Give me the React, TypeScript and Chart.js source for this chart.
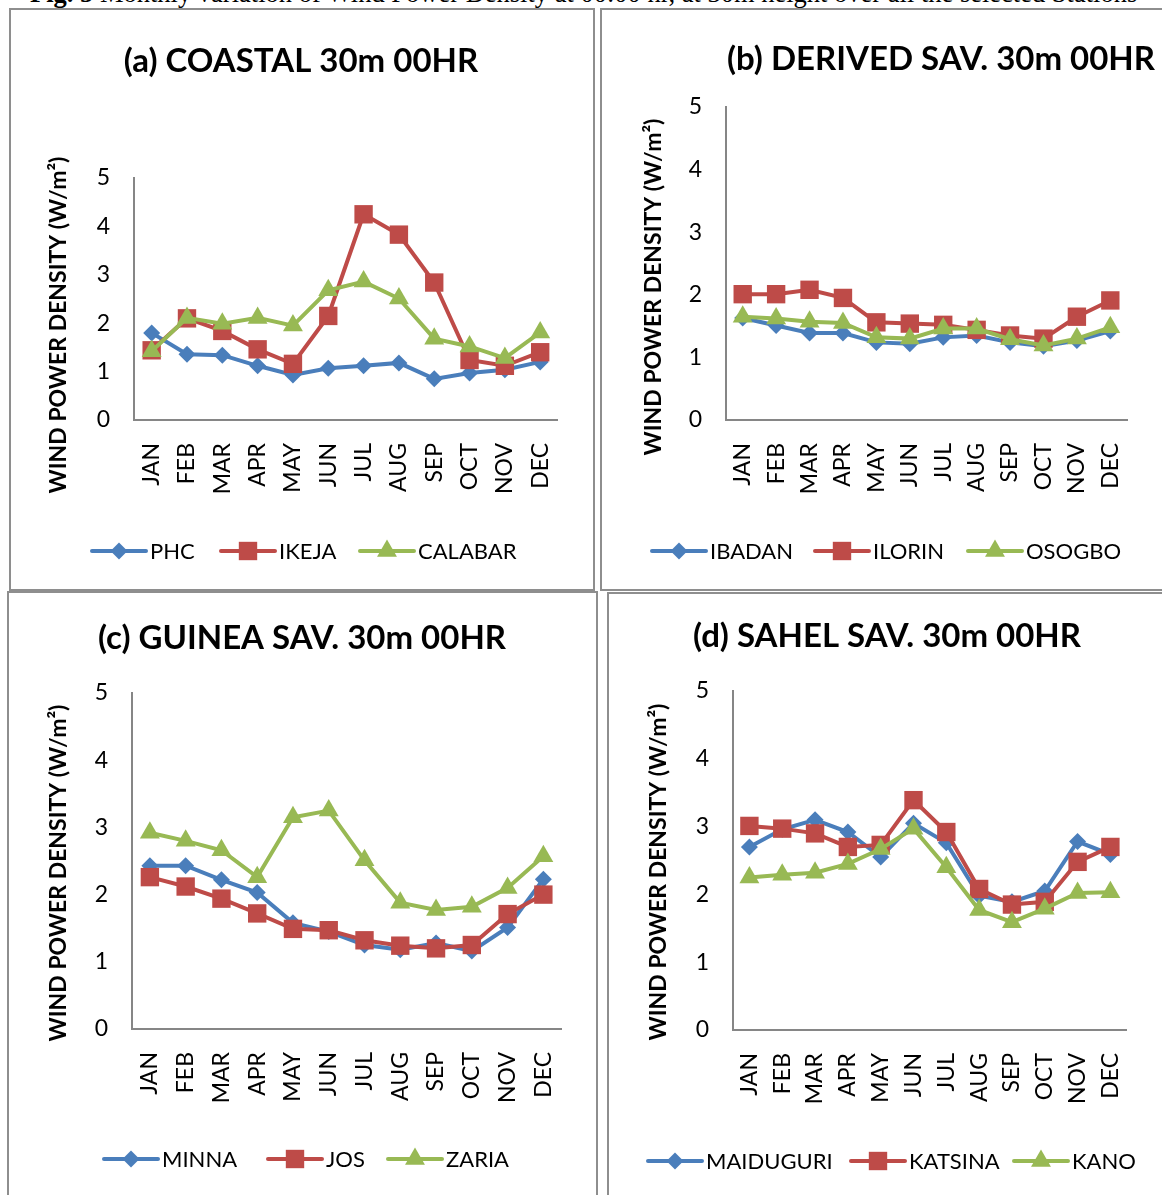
import React, { useEffect, useRef } from "react";
import { Chart, registerables } from "chart.js";
import { drawPoint } from "chart.js/helpers";

Chart.register(...registerables);

// ---------------- DATA ----------------
const MONTHS = ["JAN", "FEB", "MAR", "APR", "MAY", "JUN", "JUL", "AUG", "SEP", "OCT", "NOV", "DEC"];
const Y_TICKS = [0, 1, 2, 3, 4, 5];

// (a) Coastal
const PHC = [1.8, 1.36, 1.34, 1.12, 0.93, 1.07, 1.12, 1.18, 0.85, 0.97, 1.04, 1.2];
const IKEJA = [1.44, 2.1, 1.84, 1.46, 1.16, 2.15, 4.25, 3.83, 2.84, 1.24, 1.12, 1.4];
const CALABAR = [1.42, 2.11, 1.99, 2.11, 1.95, 2.68, 2.86, 2.51, 1.68, 1.52, 1.28, 1.81];

// (b) Derived savannah
const IBADAN = [1.63, 1.51, 1.39, 1.39, 1.24, 1.22, 1.32, 1.35, 1.24, 1.18, 1.27, 1.42];
const ILORIN = [2.01, 2.01, 2.08, 1.95, 1.56, 1.54, 1.52, 1.44, 1.35, 1.3, 1.65, 1.91];
const OSOGBO = [1.65, 1.62, 1.57, 1.55, 1.32, 1.3, 1.46, 1.46, 1.29, 1.19, 1.3, 1.48];

// (c) Guinea savannah
const MINNA = [2.43, 2.43, 2.22, 2.03, 1.58, 1.45, 1.25, 1.18, 1.28, 1.16, 1.51, 2.23];
const JOS = [2.26, 2.12, 1.94, 1.72, 1.49, 1.47, 1.32, 1.24, 1.2, 1.25, 1.71, 2.0];
const ZARIA = [2.92, 2.8, 2.66, 2.26, 3.15, 3.25, 2.51, 1.88, 1.77, 1.82, 2.1, 2.57];

// (d) Sahel savannah
const MAIDUGURI = [2.7, 2.96, 3.1, 2.92, 2.55, 3.05, 2.76, 1.98, 1.89, 2.05, 2.78, 2.59];
const KATSINA = [3.01, 2.97, 2.9, 2.7, 2.73, 3.39, 2.92, 2.08, 1.85, 1.89, 2.48, 2.7];
const KANO = [2.25, 2.29, 2.32, 2.45, 2.67, 2.97, 2.4, 1.77, 1.59, 1.79, 2.02, 2.03];

const TITLES = [
  "(a) COASTAL 30m 00HR",
  "(b) DERIVED SAV. 30m 00HR",
  "(c) GUINEA SAV. 30m 00HR",
  "(d) SAHEL SAV. 30m 00HR",
];
const Y_TITLE = "WIND POWER DENSITY (W/m\u00B2)";
const CAPTION_BOLD = "Fig. 5";
const CAPTION_TEXT = " Monthly variation of Wind Power Density at 00:00 hr, at 30m height over all the selected Stations";

// ---------------- STYLE ----------------
const COLORS = ["#4A7EBB", "#BE4B48", "#98B954"];
const POINT_STYLES = ["rectRot", "rect", "triangle"];
const POINT_RADII = [8.5, 13, 11.5];
const FONT = "Lato, 'Open Sans', sans-serif";
const AXIS_COLOR = "#868686";

type Geo = {
  canvas: [number, number, number, number]; // x, y, w, h (page)
  plot: [number, number, number, number]; // left, top, right, bottom (page)
  title: [number, number];
  yTitle: [number, number];
  legendY: number;
  legendX: number[]; // start x of each legend entry line (page)
};

type PanelDef = {
  title: string;
  names: string[];
  series: number[][];
  geo: Geo;
  box: [number, number, number, number];
};

const PANELS: PanelDef[] = [
  {
    title: TITLES[0],
    names: ["PHC", "IKEJA", "CALABAR"],
    series: [PHC, IKEJA, CALABAR],
    box: [9, 8, 586, 583],
    geo: { canvas: [11, 10, 581, 579], plot: [134, 178, 563, 420], title: [301, 61], yTitle: [59, 325], legendY: 551, legendX: [92, 221, 360] },
  },
  {
    title: TITLES[1],
    names: ["IBADAN", "ILORIN", "OSOGBO"],
    series: [IBADAN, ILORIN, OSOGBO],
    box: [600, 8, 700, 583],
    geo: { canvas: [602, 10, 560, 579], plot: [726, 107, 1136, 420], title: [941, 59], yTitle: [654, 287], legendY: 551, legendX: [652, 815, 968] },
  },
  {
    title: TITLES[2],
    names: ["MINNA", "JOS", "ZARIA"],
    series: [MINNA, JOS, ZARIA],
    box: [7, 591, 591, 700],
    geo: { canvas: [9, 593, 586, 602], plot: [132, 693, 570, 1029], title: [302, 638], yTitle: [59, 873], legendY: 1159, legendX: [104, 268, 388] },
  },
  {
    title: TITLES[3],
    names: ["MAIDUGURI", "KATSINA", "KANO"],
    series: [MAIDUGURI, KATSINA, KANO],
    box: [607, 592, 700, 700],
    geo: { canvas: [609, 594, 553, 601], plot: [733, 691, 1138, 1030], title: [887, 636], yTitle: [659, 872], legendY: 1161, legendX: [648, 851, 1014] },
  },
];

const X_AXIS_HEIGHT = 90;

const decorPlugin = {
  id: "panelDecor",
  afterDraw(chart: any, _args: any, opts: any) {
    const { ctx } = chart;
    const [cx, cy] = opts.geo.canvas;
    ctx.save();
    // Title
    ctx.fillStyle = "#000";
    ctx.font = `bold 33px ${FONT}`;
    ctx.textAlign = "center";
    ctx.textBaseline = "middle";
    ctx.fillText(opts.title, opts.geo.title[0] - cx, opts.geo.title[1] - cy);
    // Y axis title
    ctx.save();
    ctx.translate(opts.geo.yTitle[0] - cx, opts.geo.yTitle[1] - cy);
    ctx.rotate(-Math.PI / 2);
    ctx.font = `bold 23px ${FONT}`;
    ctx.fillText(Y_TITLE, 0, 0);
    ctx.restore();
    // Legend
    const y = opts.geo.legendY - cy;
    ctx.font = `22px ${FONT}`;
    ctx.textAlign = "left";
    opts.names.forEach((name: string, i: number) => {
      const x = opts.geo.legendX[i] - cx;
      ctx.strokeStyle = COLORS[i];
      ctx.lineWidth = 4;
      ctx.lineCap = "round";
      ctx.beginPath();
      ctx.moveTo(x, y);
      ctx.lineTo(x + 54, y);
      ctx.stroke();
      ctx.fillStyle = COLORS[i];
      drawPoint(ctx, { pointStyle: POINT_STYLES[i], radius: POINT_RADII[i], rotation: 0, borderWidth: 0 } as any, x + 27, y);
      ctx.fillStyle = "#000";
      ctx.fillText(name, x + 58, y + 1);
    });
    ctx.restore();
  },
};

function Panel({ def }: { def: PanelDef }) {
  const ref = useRef<HTMLCanvasElement>(null);
  const g = def.geo;
  useEffect(() => {
    if (!ref.current) return;
    const [cx, cy, cw, ch] = g.canvas;
    const [pl, pt, pr, pb] = g.plot;
    const chart = new Chart(ref.current, {
      type: "line",
      data: {
        labels: MONTHS,
        datasets: def.series.map((data, i) => ({
          label: def.names[i],
          data,
          borderColor: COLORS[i],
          backgroundColor: COLORS[i],
          borderWidth: 4,
          pointStyle: POINT_STYLES[i],
          pointRadius: POINT_RADII[i],
          pointHoverRadius: POINT_RADII[i],
          pointBackgroundColor: COLORS[i],
          pointBorderColor: COLORS[i],
          pointBorderWidth: 0,
          tension: 0,
          clip: false,
          order: 2 - i,
        })) as any,
      },
      options: {
        animation: false,
        responsive: false,
        events: [],
        layout: {
          padding: { left: 0, top: pt - cy, right: cx + cw - pr, bottom: cy + ch - pb - X_AXIS_HEIGHT },
        },
        plugins: {
          legend: { display: false },
          title: { display: false },
          tooltip: { enabled: false },
          panelDecor: { geo: g, title: def.title, names: def.names },
        } as any,
        scales: {
          x: {
            type: "category",
            offset: true,
            grid: { display: false, drawTicks: false },
            border: { display: true, color: AXIS_COLOR, width: 2 },
            ticks: {
              color: "#000",
              font: { family: FONT, size: 23 },
              minRotation: 90,
              maxRotation: 90,
              padding: 23,
              autoSkip: false,
            },
            afterFit: (s: any) => {
              s.height = X_AXIS_HEIGHT;
            },
          },
          y: {
            min: 0,
            max: 5,
            grid: { display: false, drawTicks: false },
            border: { display: true, color: AXIS_COLOR, width: 2 },
            ticks: {
              color: "#000",
              font: { family: FONT, size: 23 },
              padding: 24,
            },
            afterBuildTicks: (s: any) => {
              s.ticks = Y_TICKS.map((v) => ({ value: v }));
            },
            afterFit: (s: any) => {
              s.width = pl - cx;
            },
          },
        },
      } as any,
      plugins: [decorPlugin],
    });
    return () => chart.destroy();
  }, []);
  const [cx, cy, cw, ch] = g.canvas;
  const [bx, by, bw, bh] = def.box;
  return (
    <>
      <div
        style={{
          position: "absolute",
          left: bx,
          top: by,
          width: bw,
          height: bh,
          border: "2px solid #8e8e8e",
          boxSizing: "border-box",
        }}
      />
      <canvas
        ref={ref}
        width={cw}
        height={ch}
        style={{ position: "absolute", left: cx, top: cy, width: cw, height: ch }}
      />
    </>
  );
}

export default function App() {
  return (
    <div
      style={{
        position: "absolute",
        left: 0,
        top: 0,
        width: 1162,
        height: 1195,
        overflow: "hidden",
        background: "#fff",
      }}
    >
      <div
        style={{
          position: "absolute",
          left: 30,
          top: -20,
          whiteSpace: "nowrap",
          fontFamily: "'Liberation Serif', 'Times New Roman', serif",
          fontSize: 26.5,
          lineHeight: "26.5px",
          color: "#000",
        }}
      >
        <b>{CAPTION_BOLD}</b>
        {CAPTION_TEXT}
      </div>
      {PANELS.map((p, i) => (
        <Panel key={i} def={p} />
      ))}
    </div>
  );
}
